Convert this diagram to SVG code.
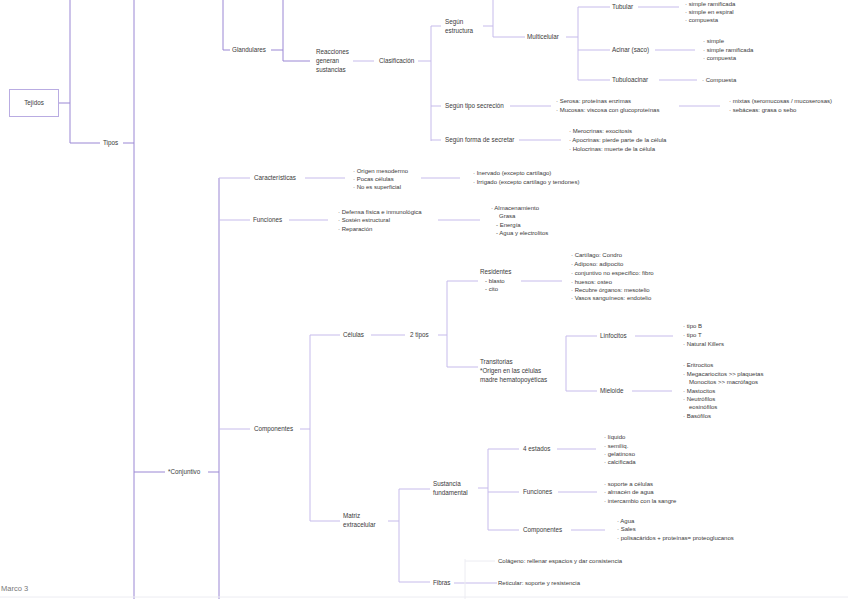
<svg xmlns="http://www.w3.org/2000/svg" width="848" height="599" viewBox="0 0 848 599">
<style>
text{font-family:"Liberation Sans","DejaVu Sans",sans-serif;font-size:6.3px;fill:#3a3a3a}
.l{font-size:6px}
.m{stroke:#9a87d4;stroke-width:1;fill:none}
.c{stroke:#c6bbeb;stroke-width:1;fill:none}
.f{stroke:#ececf2;stroke-width:1;fill:none}
</style>
<rect width="848" height="599" fill="#fff"/>
<g id="connectors">
<path class="m" d="M59 103H70M70 0V143H100M123 143H134M134 0V599"/>
<path class="m" d="M134 472H165M208 472H219M219 178V599"/>
<path class="m" d="M223 0V50H230M271 50H283M283 0V61H310"/>
<path class="c" d="M353 61H374M418 61H431M431 26V141M431 26H441M431 106H441M431 140H441"/>
<path class="c" d="M483 26H493M493 0V37H525M566 37H578M578 7V80M578 7H610M578 50H610M578 80H610"/>
<path class="c" d="M638 7H679M655 50H695M659 80H697"/>
<path class="c" d="M510 106H551M679 106H720M519 140H561"/>
<path class="c" d="M219 178H250M305 178H345M421 178H460"/>
<path class="c" d="M219 220H250M289 220H328M438 220H480"/>
<path class="c" d="M219 429H250M300 429H310M310 335V521M310 335H340M310 521H340"/>
<path class="c" d="M371 335H405M438 335H447M447 281V367M447 281H478M447 367H478M521 281H562"/>
<path class="c" d="M566 336V391M566 336H597M566 391H597M635 336H673M632 391H672"/>
<path class="c" d="M388 521H399M399 489V582M399 489H430M399 582H430M478 488H488M488 449V530M488 449H519M488 492H519M488 530H519"/>
<path class="c" d="M557 449H596M558 492H597M571 530H605M454 583H497"/>
<path class="f" d="M465 559V599M465 561H495M0 597H848"/>
</g>
<g id="tejidos">
<rect x="9.5" y="89.5" width="49" height="27" fill="#fff" stroke="#b9ace2"/>
<text x="34" y="105" text-anchor="middle">Tejidos</text>
</g>
<g id="tipos"><text x="103" y="145">Tipos</text></g>
<g id="glandulares"><text x="232" y="52">Glandulares</text></g>
<g id="reacciones"><text x="316" y="54">Reacciones</text><text x="316" y="63">generan</text><text x="316" y="72">sustancias</text></g>
<g id="clasificacion"><text x="379" y="63">Clasificación</text></g>
<g id="segun-estructura"><text x="445" y="24">Según</text><text x="445" y="33">estructura</text></g>
<g id="multicelular"><text x="527" y="39">Multicelular</text></g>
<g id="tubular"><text x="612" y="9">Tubular</text>
<text class="l" x="685" y="6">·  simple ramificada</text><text class="l" x="685" y="14">·  simple en espiral</text><text class="l" x="685" y="22">·  compuesta</text></g>
<g id="acinar"><text x="612" y="52">Acinar (saco)</text>
<text class="l" x="703" y="43">·  simple</text><text class="l" x="703" y="52">·  simple ramificada</text><text class="l" x="703" y="60">·  compuesta</text></g>
<g id="tubuloacinar"><text x="612" y="82">Tubuloacinar</text><text class="l" x="702" y="82">·  Compuesta</text></g>
<g id="segun-tipo"><text x="445" y="108">Según tipo secreción</text>
<text class="l" x="556" y="103">·  Serosa: proteínas enzimas</text><text class="l" x="556" y="112">·  Mucosas: viscosa con glucoproteínas</text>
<text class="l" x="729" y="103">·  mixtas (seromucosas / mucoserosas)</text><text class="l" x="729" y="112">·  sebáceas: grasa o sebo</text></g>
<g id="segun-forma"><text x="445" y="142">Según forma de secretar</text>
<text class="l" x="569" y="133">·  Merocrinas: exocitosis</text><text class="l" x="569" y="142">·  Apocrinas: pierde parte de la célula</text><text class="l" x="569" y="151">·  Holocrinas: muerte de la célula</text></g>
<g id="conjuntivo"><text x="168" y="474">*Conjuntivo</text></g>
<g id="caracteristicas"><text x="254" y="180">Características</text>
<text class="l" x="353" y="173">·  Origen mesodermo</text><text class="l" x="353" y="181">·  Pocas células</text><text class="l" x="353" y="189">·  No es superficial</text>
<text class="l" x="473" y="175">·  Inervado (excepto cartílago)</text><text class="l" x="473" y="184">·  Irrigado (excepto cartílago y tendones)</text></g>
<g id="funciones"><text x="253" y="222">Funciones</text>
<text class="l" x="338" y="214">·  Defensa física e inmunológica</text><text class="l" x="338" y="222">·  Sostén estructural</text><text class="l" x="338" y="231">·  Reparación</text>
<text class="l" x="491" y="210">·  Almacenamiento</text><text class="l" x="499" y="218">Grasa</text><text class="l" x="496" y="227">- Energía</text><text class="l" x="496" y="235">- Agua y electrolitos</text></g>
<g id="componentes"><text x="254" y="431">Componentes</text></g>
<g id="celulas"><text x="343" y="337">Células</text></g>
<g id="dos-tipos"><text x="410" y="337">2 tipos</text></g>
<g id="residentes"><text x="480" y="274">Residentes</text><text class="l" x="485" y="283">-   blasto</text><text class="l" x="485" y="291">-   cito</text>
<text class="l" x="571" y="257">·  Cartílago: Condro</text><text class="l" x="571" y="266">·  Adiposo: adipocito</text><text class="l" x="571" y="275">·  conjuntivo no específico: fibro</text><text class="l" x="571" y="284">·  huesos: osteo</text><text class="l" x="571" y="292">·  Recubre órganos: mesotelio</text><text class="l" x="571" y="300">·  Vasos sanguíneos: endotelio</text></g>
<g id="transitorias"><text x="480" y="364">Transitorias</text><text x="480" y="373">*Origen en las células</text><text x="480" y="382">madre hematopoyéticas</text></g>
<g id="linfocitos"><text x="600" y="338">Linfocitos</text>
<text class="l" x="683" y="328">·  tipo B</text><text class="l" x="683" y="337">·  tipo T</text><text class="l" x="683" y="346">·  Natural Killers</text></g>
<g id="mieloide"><text x="600" y="393">Mieloide</text>
<text class="l" x="683" y="367">·  Eritrocitos</text><text class="l" x="683" y="376">·  Megacariocitos &gt;&gt; plaquetas</text><text class="l" x="689" y="384">Monocitos &gt;&gt; macrófagos</text><text class="l" x="683" y="393">·  Mastocitos</text><text class="l" x="683" y="401">·  Neutrófilos</text><text class="l" x="689" y="409">eosinófilos</text><text class="l" x="683" y="418">·  Basófilos</text></g>
<g id="matriz"><text x="343" y="518">Matriz</text><text x="343" y="527">extracelular</text></g>
<g id="sustancia"><text x="433" y="486">Sustancia</text><text x="433" y="495">fundamental</text></g>
<g id="estados"><text x="523" y="451">4 estados</text>
<text class="l" x="604" y="439">·  líquido</text><text class="l" x="604" y="448">·  semilíq.</text><text class="l" x="604" y="456">·  gelatinoso</text><text class="l" x="604" y="464">·  calcificada</text></g>
<g id="funciones-sf"><text x="523" y="494">Funciones</text>
<text class="l" x="604" y="486">·  soporte a células</text><text class="l" x="604" y="494">·  almacén de agua</text><text class="l" x="604" y="503">·  intercambio con la sangre</text></g>
<g id="componentes-sf"><text x="523" y="532">Componentes</text>
<text class="l" x="617" y="523">·  Agua</text><text class="l" x="617" y="531">·  Sales</text><text class="l" x="617" y="540">·  polisacáridos + proteínas= proteoglucanos</text></g>
<g id="fibras"><text x="433" y="585">Fibras</text>
<text class="l" x="498" y="563">Colágeno: rellenar espacios y dar consistencia</text><text class="l" x="498" y="585">Reticular: soporte y resistencia</text></g>
<g id="marco"><text x="1" y="591" style="fill:#777;font-size:7.5px">Marco 3</text></g>
</svg>
